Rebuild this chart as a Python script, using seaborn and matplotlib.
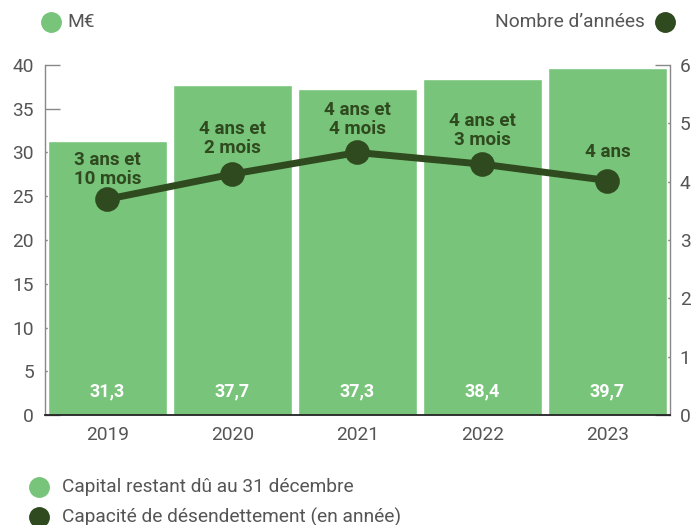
import matplotlib
matplotlib.use('Agg')
import matplotlib.pyplot as plt
import seaborn as sns
import pandas as pd
from matplotlib.lines import Line2D

# ---- data ----
years = ['2019', '2020', '2021', '2022', '2023']
capital = [31.3, 37.7, 37.3, 38.4, 39.7]
capital_labels = ['31,3', '37,7', '37,3', '38,4', '39,7']
annees = [3.70, 4.13, 4.50, 4.30, 4.02]
annee_labels = ['3 ans et\n10 mois', '4 ans et\n2 mois', '4 ans et\n4 mois',
                '4 ans et\n3 mois', '4 ans']
left_ticks = [0, 5, 10, 15, 20, 25, 30, 35, 40]
right_ticks = [0, 1, 2, 3, 4, 5, 6]
legend_top_left = 'M€'
legend_top_right = 'Nombre d’années'
legend_bottom = ['Capital restant dû au 31 décembre',
                 'Capacité de désendettement (en année)']

# ---- style ----
GREEN = '#78c47a'
DARK = '#2f4a1e'
GREY_TXT = '#555555'
GREY_AX = '#888888'

sns.set_theme(style='white')
plt.rcParams['font.family'] = ['Roboto', 'DejaVu Sans']

df = pd.DataFrame({'year': years, 'capital': capital, 'annees': annees})

fig = plt.figure(figsize=(6.91, 5.25), dpi=100)
fig.patch.set_facecolor('white')
ax = fig.add_axes([0.0651, 0.2095, 0.9045, 0.6667])

# right axis (ticks only), drawn beneath bars
ax2 = ax.twinx()
ax.set_zorder(2)
ax2.set_zorder(1)
ax.patch.set_visible(False)

sns.barplot(data=df, x='year', y='capital', color=GREEN, saturation=1,
            width=0.952, ax=ax)
ax.set_axisbelow(True)
ax.set_xlim(-0.5, 4.5)
ax.set_ylim(0, 40)
ax.set_yticks(left_ticks)
ax.set_xlabel('')
ax.set_ylabel('')
for s in ['top', 'right']:
    ax.spines[s].set_visible(False)
ax.spines['left'].set_color(GREY_AX)
ax.spines['left'].set_linewidth(1)
ax.spines['bottom'].set_color('#222222')
ax.spines['bottom'].set_linewidth(1.3)
ax.tick_params(axis='y', direction='in', length=11, width=1, color=GREY_AX,
               labelsize=13.8, labelcolor=GREY_TXT, pad=8)
ax.tick_params(axis='x', which='major', length=0, labelsize=13.8,
               labelcolor=GREY_TXT, pad=8)
ax.set_xticks([0.5, 1.5, 2.5, 3.5], minor=True)
ax.tick_params(axis='x', which='minor', direction='in', length=6, width=1,
               color='#555555')

for i, lab in enumerate(capital_labels):
    ax.text(i, 2.75, lab, ha='center', va='center', color='white',
            fontsize=13, fontweight='bold')

ax2.set_ylim(0, 6)
ax2.set_yticks(right_ticks)
for s in ['top', 'left', 'bottom']:
    ax2.spines[s].set_visible(False)
ax2.spines['right'].set_color(GREY_AX)
ax2.spines['right'].set_linewidth(1)
ax2.tick_params(axis='y', direction='in', length=11, width=1, color=GREY_AX,
                labelsize=13.8, labelcolor=GREY_TXT, pad=7)
ax2.grid(False)

# line on top
ax3 = ax.twinx()
ax3.set_zorder(3)
ax3.patch.set_visible(False)
sns.pointplot(data=df, x='year', y='annees', color=DARK, markers='o',
              errorbar=None, markersize=14, linewidth=5, ax=ax3)
ax3.set_xlim(-0.5, 4.5)
ax3.set_ylim(0, 6)
ax3.axis('off')

offsets = [15, 21, 18, 19, 24]
for i, (v, lab) in enumerate(zip(annees, annee_labels)):
    ax3.annotate(lab, (i, v), xytext=(0, offsets[i] * 0.72),
                 textcoords='offset points', ha='center', va='baseline',
                 color=DARK, fontsize=13.5, fontweight='bold',
                 linespacing=1.1)

# ---- legends ----
def dot(x, y, c):
    fig.add_artist(Line2D([x], [y], marker='o', markersize=14, color=c,
                          linestyle='', transform=fig.transFigure))

dot(0.0738, 0.958, GREEN)
fig.text(0.097, 0.958, legend_top_left, ha='left', va='center',
         fontsize=13.8, color=GREY_TXT)
dot(0.9624, 0.958, DARK)
fig.text(0.9334, 0.958, legend_top_right, ha='right', va='center',
         fontsize=13.8, color=GREY_TXT)

dot(0.0564, 0.0724, GREEN)
fig.text(0.0897, 0.0724, legend_bottom[0], ha='left', va='center',
         fontsize=13.8, color=GREY_TXT)
dot(0.0564, 0.0143, DARK)
fig.text(0.0897, 0.0143, legend_bottom[1], ha='left', va='center',
         fontsize=13.8, color=GREY_TXT)

fig.savefig('out.png', dpi=100, facecolor='white')
